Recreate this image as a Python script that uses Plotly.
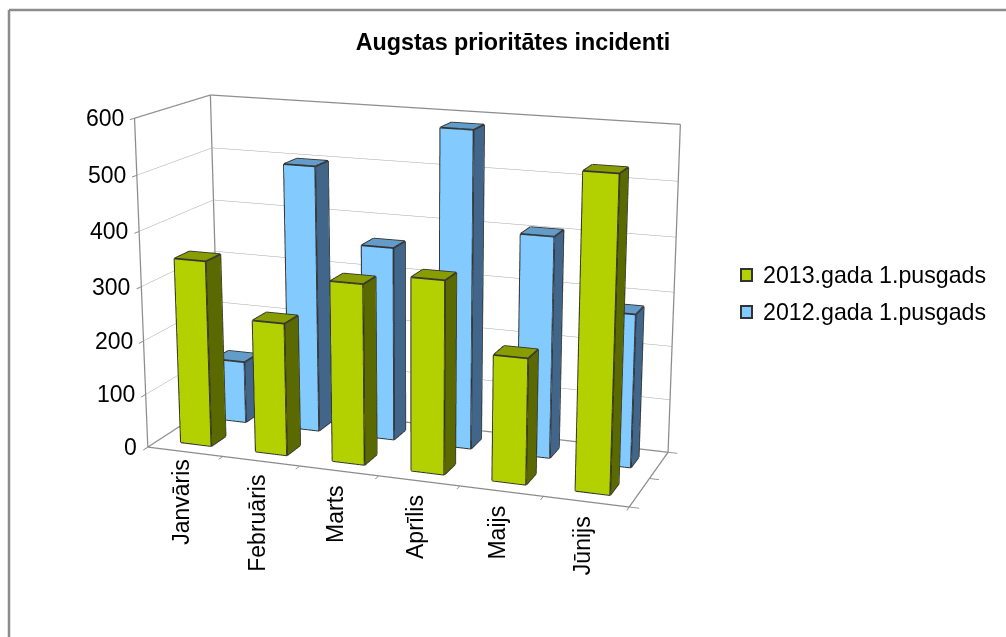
import plotly.graph_objects as go

TITLE = "Augstas prioritātes incidenti"
categories = ["Janvāris", "Februāris", "Marts", "Aprīlis", "Maijs", "Jūnijs"]
name_2013 = "2013.gada 1.pusgads"
name_2012 = "2012.gada 1.pusgads"
values_2013 = [345, 245, 330, 350, 227, 555]
values_2012 = [118, 500, 362, 585, 407, 281]
z_ticks = [0, 100, 200, 300, 400, 500, 600]

# Plotly's 3D view angle is fixed, so the canvas is taller than the window
# to get the reference's weak perspective; the page shows the middle of it.
W, H = 1006, 637
CH = 1542
OY = 453
def px(x): return x / W
def py(y): return 1 - (y + OY) / CH

FONT = "Liberation Sans"
GRID = "#a6a6a6"
EDGE = "#8c8c8c"
BAR_EDGE = "#333333"
GREEN = ("#b3d100", "#5a6900", "#889e00")
BLUE = ("#83caff", "#42658a", "#639cc8")
DEPTH_2013 = (0.15, 0.35)
DEPTH_2012 = (0.65, 0.85)
BAR_LEFT, BAR_RIGHT = 0.295, 0.705
LABEL_NUDGE = [7, 0, 0, 0, 0, 0]

def bars(vals, depth, cols, name):
    y0, y1 = depth
    front, side, top = cols
    X, Y, Z, I, J, K, FC = [], [], [], [], [], [], []
    lx, ly, lz = [], [], []
    for c, v in enumerate(vals):
        x0, x1 = c + BAR_LEFT, c + BAR_RIGHT
        n = len(X)
        for a, b, d in [(x0,y0,0),(x1,y0,0),(x1,y1,0),(x0,y1,0),(x0,y0,v),(x1,y0,v),(x1,y1,v),(x0,y1,v)]:
            X.append(a); Y.append(b); Z.append(d)
        faces = [((0,1,5,4),front),((1,2,6,5),side),((4,5,6,7),top),((3,2,6,7),front),((0,3,7,4),side),((0,1,2,3),top)]
        for q, col in faces:
            I += [n+q[0], n+q[0]]; J += [n+q[1], n+q[2]]; K += [n+q[2], n+q[3]]; FC += [col, col]
        for e in [(0,1),(1,2),(2,3),(3,0),(4,5),(5,6),(6,7),(7,4),(0,4),(1,5),(2,6),(3,7)]:
            for q in e:
                lx.append(X[n+q]); ly.append(Y[n+q]); lz.append(Z[n+q])
            lx.append(None); ly.append(None); lz.append(None)
    mesh = go.Mesh3d(x=X, y=Y, z=Z, i=I, j=J, k=K, facecolor=FC, flatshading=True, name=name, hoverinfo="skip",
                     lighting=dict(ambient=1, diffuse=0, specular=0, roughness=1, fresnel=0))
    line = go.Scatter3d(x=lx, y=ly, z=lz, mode="lines", line=dict(color=BAR_EDGE, width=3.5), hoverinfo="skip", showlegend=False)
    return [mesh, line]

nc = len(categories)
zmax = z_ticks[-1]
frame_x = [0,0,None,0,0,None,nc,nc,None,0,nc,None,0,0,None,0,nc,None,nc,nc,None,0,nc,None,0,0]
frame_y = [0,0,None,1,1,None,1,1,None,1,1,None,0,1,None,0,0,None,0,1,None,1,1,None,0,1]
frame_z = [0,zmax,None,0,zmax,None,0,zmax,None,zmax,zmax,None,zmax,zmax,None,0,0,None,0,0,None,0,0,None,0,0]

fig = go.Figure()
fig.add_trace(go.Scatter3d(x=frame_x, y=frame_y, z=frame_z, mode="lines", line=dict(color=EDGE, width=2.5), hoverinfo="skip", showlegend=False))
for t in bars(values_2012, DEPTH_2012, BLUE, name_2012): fig.add_trace(t)
for t in bars(values_2013, DEPTH_2013, GREEN, name_2013): fig.add_trace(t)

cat_anns = [dict(x=i+0.5, y=0, z=0, text=c, textangle=-90, showarrow=False, yanchor="top", yshift=-12+LABEL_NUDGE[i], xshift=-4,
                 font=dict(family=FONT, size=23, color="#000")) for i, c in enumerate(categories)]
z_anns = [dict(x=0, y=0, z=v, text=str(v), showarrow=False, xanchor="right", xshift=-9,
               font=dict(family=FONT, size=23, color="#000")) for v in z_ticks]
axc = dict(showbackground=False, showspikes=False, title=dict(text=""), zeroline=False, showline=False,
           showticklabels=False, ticks="outside", ticklen=8, tickcolor=EDGE, tickwidth=2)

text_2d = [dict(x=px(760.5), y=py(y), xref="paper", yref="paper", text=n, showarrow=False, xanchor="left", yanchor="middle",
                font=dict(family=FONT, size=23.2, color="#000")) for n, y in [(name_2013, 275), (name_2012, 312)]]
def sq(y, col):
    return dict(type="rect", xref="paper", yref="paper", x0=px(741), x1=px(752), y0=py(y+6), y1=py(y-6),
                fillcolor=col, line=dict(color=BAR_EDGE, width=2))
fig.update_layout(width=W, height=CH, margin=dict(l=0, r=0, t=0, b=0), paper_bgcolor="white", showlegend=False,
    title=dict(text="<b>"+TITLE+"</b>", x=px(513), xanchor="center", y=py(42), yanchor="middle", xref="paper", yref="paper",
               font=dict(family=FONT, size=23.3, color="#000")),
    scene=dict(domain=dict(x=[0,1], y=[0,1]), aspectmode="manual", aspectratio=dict(x=1, y=0.325, z=0.669), dragmode="orbit",
        camera=dict(eye=dict(x=1.252, y=-3.337, z=0.917), center=dict(x=0.163, y=0.109, z=-0.071), up=dict(x=0, y=-0.04, z=1),
                    projection=dict(type="perspective")),
        xaxis=dict(range=[0,nc], tickvals=list(range(nc+1)), showgrid=False, **axc),
        yaxis=dict(range=[0,1], tickvals=[0,0.5,1], showgrid=False, **axc),
        zaxis=dict(range=[0,zmax], tickvals=z_ticks, showgrid=True, gridcolor=GRID, gridwidth=1, **axc),
        annotations=cat_anns+z_anns),
    annotations=text_2d,
    shapes=[sq(275, GREEN[0]), sq(312, BLUE[0]),
            dict(type="line", xref="paper", yref="paper", x0=px(9), x1=1, y0=py(10), y1=py(10), line=dict(color=EDGE, width=2.5)),
            dict(type="line", xref="paper", yref="paper", x0=px(9), x1=px(9), y0=py(H), y1=py(10), line=dict(color=EDGE, width=2.5))])
post = ("document.documentElement.style.overflow='hidden';document.body.style.overflow='hidden';document.body.style.margin='0';"
        "var g=document.querySelector('.plotly-graph-div');g.style.position='absolute';g.style.left='0';g.style.top='-%dpx';" % OY)
fig.write_html("out.html", post_script=post, config=dict(displayModeBar=False))
